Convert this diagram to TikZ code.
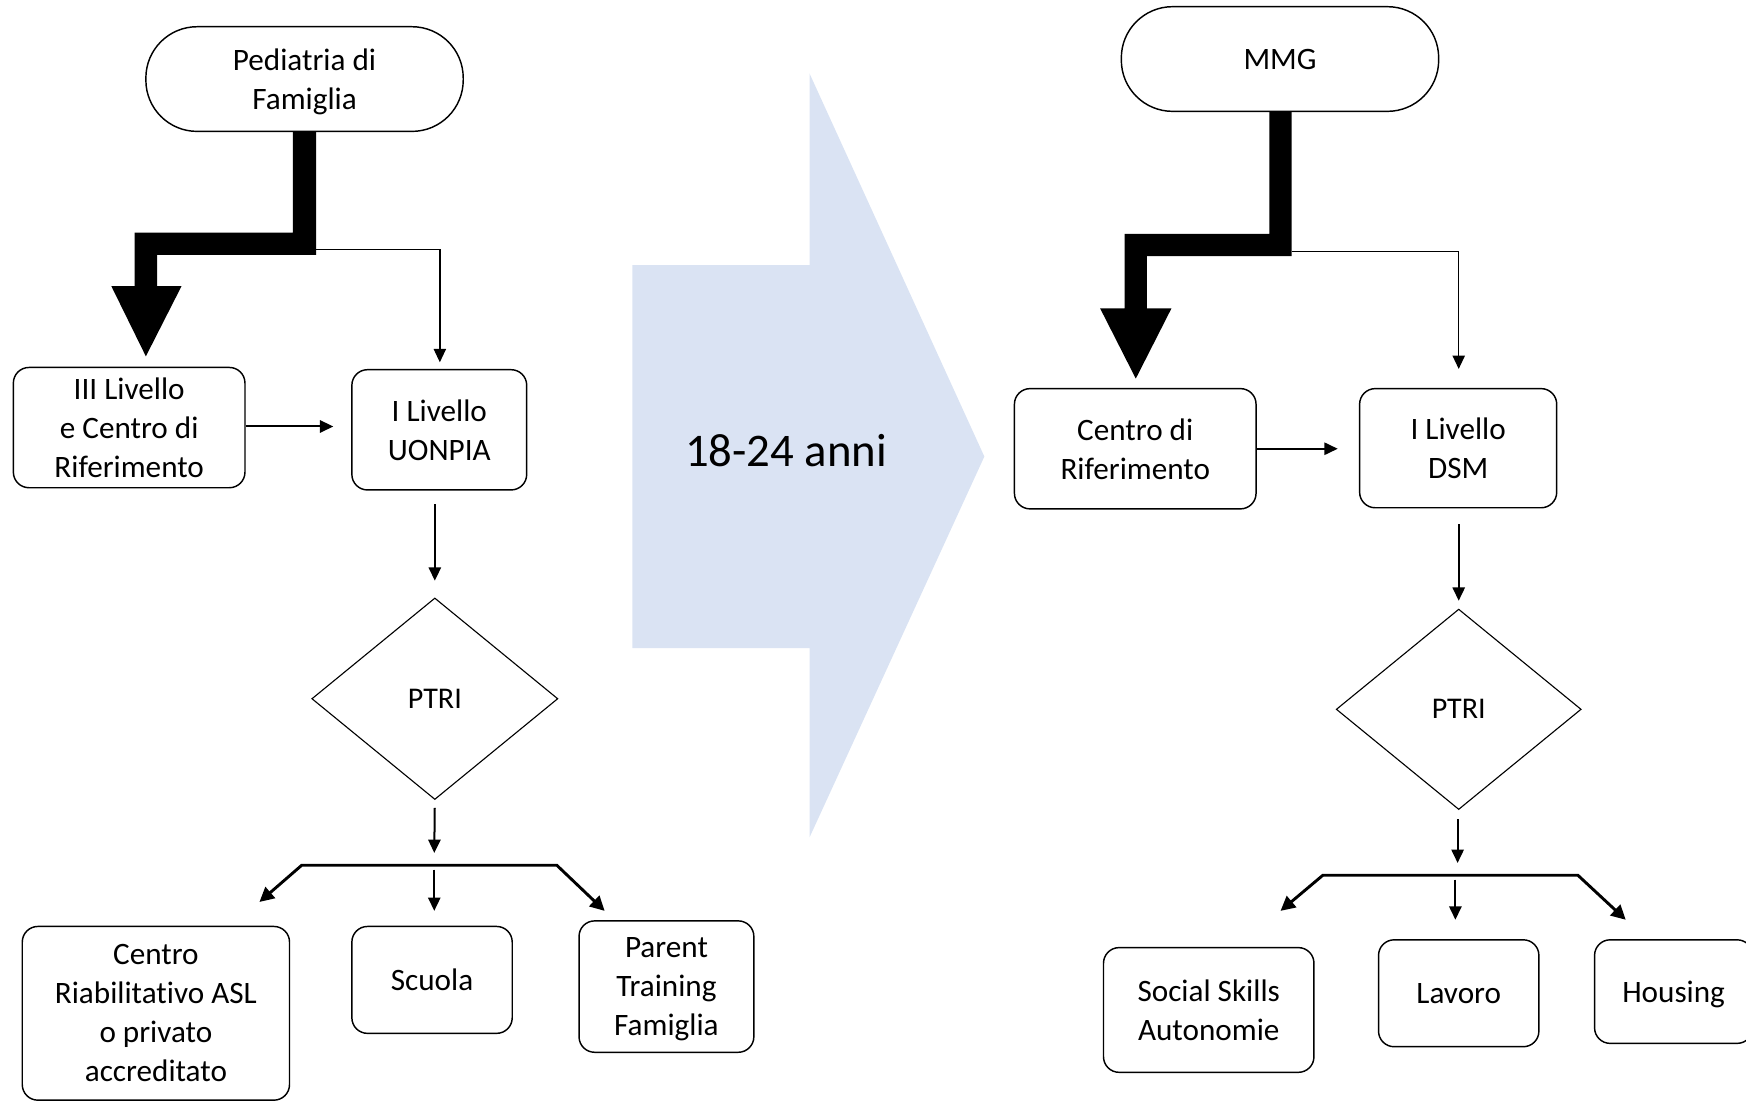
\documentclass[tikz,border=0pt]{standalone}
\usepackage{fontspec}
\setmainfont[Ligatures={NoCommon,NoContextual}]{Carlito}
\usetikzlibrary{shapes.geometric,arrows.meta}
\definecolor{arrowblue}{HTML}{DAE3F3}
\begin{document}
\begin{tikzpicture}[x=1pt,y=-1pt,
  txt/.style={font=\fontsize{28}{35}\selectfont,align=center},
  box/.style={txt,draw,rounded corners=14pt,line width=1.3pt,inner sep=0pt,text depth=0pt},
  stadium/.style={box,rounded corners=46pt},
  decision/.style={draw,diamond,line width=1pt,inner sep=0pt,font=\fontsize{27}{30}\selectfont},
  arr/.style={line width=1.8pt,-{Triangle[length=12pt,width=11pt]}},
  brk/.style={line width=2.6pt,{Triangle[length=13pt,width=13pt]}-{Triangle[length=13pt,width=13pt]}},
  thick arrow/.style={fill=black}
]
\useasboundingbox (0,0) rectangle (1568,992);
\clip (0,0) rectangle (1568,992);

% big transition arrow
\fill[arrowblue] (568,238) -- (727,238) -- (727,66) -- (884,410) -- (727,752) -- (727,582) -- (568,582) -- cycle;
\node[font=\fontsize{42}{50}\selectfont] (age) at (706,405) {18-24 anni};

% ---------- left side ----------
\node[stadium,minimum width=285pt,minimum height=94pt] (ped) at (273.5,71) {Pediatria di\\Famiglia};
\node[box,minimum width=208pt,minimum height=108pt] (liv3) at (116,384) {III Livello\\e Centro di\\Riferimento};
\node[box,minimum width=157pt,minimum height=108pt] (uon) at (394.5,386) {I Livello\\UONPIA};
\node[decision,minimum width=221pt,minimum height=181pt,aspect=1.22] (ptri1) at (390.5,627.5) {PTRI};
\node[box,minimum width=240pt,minimum height=156pt] (cr) at (140,910) {Centro\\Riabilitat\kern0pt ivo ASL\\o privato\\accreditato};
\node[box,minimum width=144pt,minimum height=96pt] (sc) at (388,880) {Scuola};
\node[box,minimum width=157pt,minimum height=118pt] (pt) at (598.5,886) {Parent\\Training\\Famiglia};

% thick arrow (left)
\fill[thick arrow] (263,118) -- (284,118) -- (284,229) -- (141,229) -- (141,257) -- (163,257)
  -- (131,320) -- (100,257) -- (121,257) -- (121,209) -- (263,209) -- cycle;
\coordinate (j1) at (284,224);
\coordinate (b1l) at (271,777);
\coordinate (b1r) at (500,777);
\coordinate (b1le) at (233,810);
\coordinate (b1re) at (543,818);
\coordinate (b1m) at (390,781);
\coordinate (b1me) at (390,818);

\draw[arr,line width=1.3pt,shorten >=6pt] (j1) -| (uon.north -| 395,0);
\draw[arr,shorten >=16pt] (liv3.east |- 0,383) -- (uon.west |- 0,383);
\draw[arr,shorten <=12pt,shorten >=15pt] (ptri1.north |- uon.south) -- (ptri1.north);
\draw[arr,shorten <=7pt] (ptri1.south) -- (390,766);
\draw[brk] (b1le) -- (b1l) -- (b1r) -- (b1re);
\draw[arr] (b1m) -- (b1me);

% ---------- right side ----------
\node[stadium,minimum width=285pt,minimum height=94pt] (mmg) at (1149.5,53) {MMG};
\node[box,minimum width=217pt,minimum height=108pt] (cdr) at (1019.5,403) {Centro di\\Riferimento};
\node[box,minimum width=177pt,minimum height=107pt] (dsm) at (1309.5,402.5) {I Livello\\DSM};
\node[decision,minimum width=220pt,minimum height=180pt,aspect=1.22] (ptri2) at (1310,637) {PTRI};
\node[box,minimum width=189pt,minimum height=112pt] (ss) at (1085.5,907) {Social Skills\\Autonomie};
\node[box,minimum width=144pt,minimum height=96pt] (lav) at (1310,892) {Lavoro};
\node[box,minimum width=142pt,minimum height=93pt] (hou) at (1503,890.5) {Housing};

% thick arrow (right)
\fill[thick arrow] (1140,100) -- (1160,100) -- (1160,230) -- (1030,230) -- (1030,277) -- (1052,277)
  -- (1020,340) -- (988,277) -- (1010,277) -- (1010,210) -- (1140,210) -- cycle;
\coordinate (j2) at (1160,226);
\coordinate (b2l) at (1188,786);
\coordinate (b2r) at (1417,786);
\coordinate (b2le) at (1150,818);
\coordinate (b2re) at (1460,826);
\coordinate (b2m) at (1307,790);
\coordinate (b2me) at (1307,826);

\draw[arr,line width=1.3pt,shorten >=17pt] (j2) -| (dsm.north -| 1310,0);
\draw[arr,shorten >=19pt] (cdr.east) -- (cdr.east -| dsm.west);
\draw[arr,shorten <=14pt,shorten >=7pt] (ptri2.north |- dsm.south) -- (ptri2.north);
\draw[arr,shorten <=8pt] (ptri2.south -| 1309,0) -- (1309,775);
\draw[brk] (b2le) -- (b2l) -- (b2r) -- (b2re);
\draw[arr] (b2m) -- (b2me);
\end{tikzpicture}
\end{document}
